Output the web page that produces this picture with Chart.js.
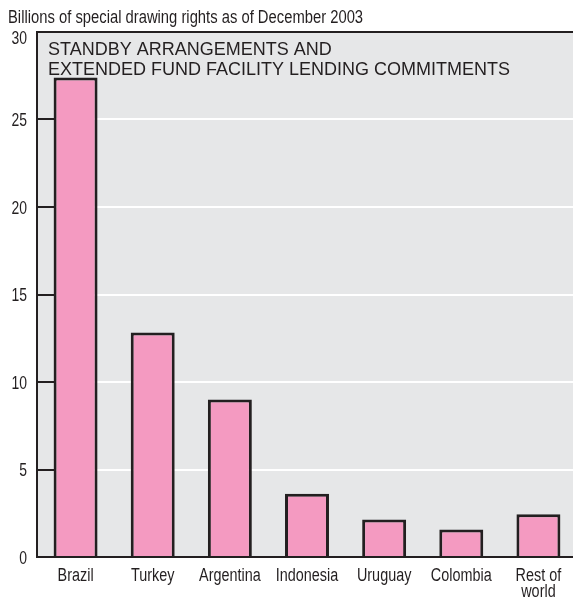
<!DOCTYPE html>
<html>
<head>
<meta charset="utf-8">
<script src="https://cdn.jsdelivr.net/npm/chart.js@4.4.1/dist/chart.umd.min.js"></script>
<style>
  html, body { margin: 0; padding: 0; background: #ffffff; overflow: hidden; }
  #wrap { position: relative; width: 577px; height: 601px; }
</style>
</head>
<body>
<div id="wrap"><canvas id="chart" width="577" height="601"></canvas></div>
<script>
// Standby arrangements and EFF lending commitments, billions of SDRs (December 2003)
const categories = ['Brazil', 'Turkey', 'Argentina', 'Indonesia', 'Uruguay', 'Colombia', ['Rest of', 'world']];
const commitments = [27.4, 12.83, 9.0, 3.62, 2.14, 1.57, 2.44];
const yTicks = [0, 5, 10, 15, 20, 25, 30];

const unitsLabel = 'Billions of special drawing rights as of December 2003';
const panelTitle = ['STANDBY ARRANGEMENTS AND', 'EXTENDED FUND FACILITY LENDING COMMITMENTS'];

const DARK = '#231f20';
const PANEL = '#e6e7e8';
const PINK = '#f49ac1';
const SANS = '"Liberation Sans", Arial, Helvetica, sans-serif';

// Draw text squeezed horizontally by `squeeze`, anchored at (x, y)
function condensedText(ctx, text, x, y, align, squeeze) {
  ctx.save();
  ctx.translate(x, y);
  ctx.scale(squeeze, 1);
  ctx.textAlign = align;
  ctx.fillText(text, 0, 0);
  ctx.restore();
}

// Grey panel behind the plot area
const panelBackground = {
  id: 'panelBackground',
  beforeDraw(chart) {
    const { ctx, chartArea: a } = chart;
    ctx.save();
    ctx.fillStyle = PANEL;
    ctx.fillRect(a.left, a.top, a.right - a.left, a.bottom - a.top);
    ctx.restore();
  }
};

// Short dark tick marks pointing into the panel from the value axis
const innerTicks = {
  id: 'innerTicks',
  beforeDatasetsDraw(chart) {
    const { ctx, chartArea: a, scales: { y } } = chart;
    ctx.save();
    ctx.strokeStyle = DARK;
    ctx.lineWidth = 2;
    yTicks.forEach(v => {
      if (v === 0 || v === 30) return;
      const py = Math.round(y.getPixelForValue(v));
      ctx.beginPath();
      ctx.moveTo(a.left, py);
      ctx.lineTo(a.left + 17, py);
      ctx.stroke();
    });
    ctx.restore();
  }
};

// Axis labels (condensed), units note and panel title
const captions = {
  id: 'captions',
  afterDraw(chart) {
    const { ctx, chartArea: a, scales: { x, y } } = chart;
    ctx.save();
    ctx.fillStyle = DARK;
    ctx.textBaseline = 'alphabetic';

    // value axis labels
    ctx.font = '18px ' + SANS;
    yTicks.forEach(v => {
      let py = y.getPixelForValue(v) + 6.5;
      if (v === 30) py = a.top + 12;
      condensedText(ctx, String(v), a.left - 10, py, 'right', 0.775);
    });

    // category labels
    categories.forEach((label, i) => {
      const px = x.getPixelForTick(i);
      const lines = Array.isArray(label) ? label : [label];
      lines.forEach((line, j) => {
        condensedText(ctx, line, px, a.bottom + 23.5 + j * 16, 'center', 0.8);
      });
    });

    // units note
    ctx.font = '17.5px ' + SANS;
    condensedText(ctx, unitsLabel, 8, 22.7, 'left', 0.845);

    // panel title
    ctx.font = '18px ' + SANS;
    ctx.textAlign = 'left';
    ctx.fillText(panelTitle[0], a.left + 11, a.top + 23);
    ctx.fillText(panelTitle[1], a.left + 11, a.top + 43);
    ctx.restore();
  }
};

new Chart(document.getElementById('chart'), {
  type: 'bar',
  data: {
    labels: categories,
    datasets: [{
      data: commitments,
      backgroundColor: PINK,
      borderColor: DARK,
      borderWidth: 3,
      borderSkipped: 'bottom',
      barPercentage: 0.57,
      categoryPercentage: 1.0
    }]
  },
  options: {
    responsive: false,
    animation: false,
    devicePixelRatio: 1,
    layout: { padding: { top: 32, left: 0, right: 0, bottom: 0 } },
    plugins: {
      legend: { display: false },
      tooltip: { enabled: false },
      title: { display: false }
    },
    scales: {
      x: {
        afterFit(scale) { scale.height = 44; },
        grid: { display: false, drawTicks: false },
        border: { display: true, color: DARK, width: 2 },
        ticks: { display: false, autoSkip: false }
      },
      y: {
        min: 0,
        max: 30,
        afterFit(scale) { scale.width = 37; },
        afterBuildTicks(scale) { scale.ticks = yTicks.map(v => ({ value: v })); },
        grid: {
          drawTicks: false,
          lineWidth: 2,
          color: ctx => (ctx.tick && (ctx.tick.value === 30 || ctx.tick.value === 0)) ? DARK : '#ffffff'
        },
        border: { display: true, color: DARK, width: 2 },
        ticks: { display: false }
      }
    }
  },
  plugins: [panelBackground, innerTicks, captions]
});
</script>
</body>
</html>
